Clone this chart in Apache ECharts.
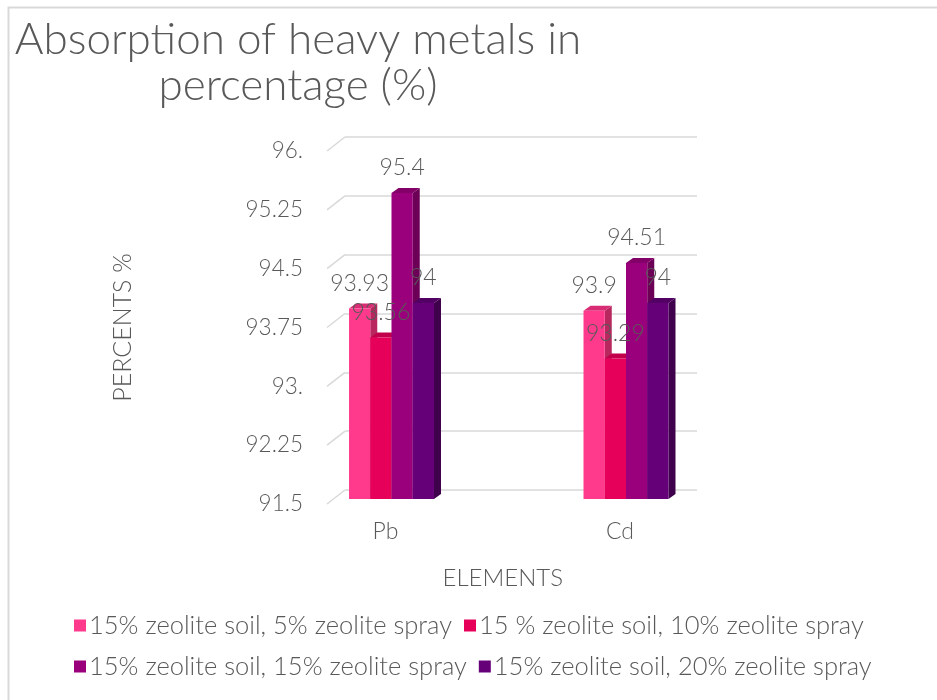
<!DOCTYPE html>
<html>
<head>
<meta charset="utf-8">
<title>Absorption of heavy metals in percentage (%)</title>
<script src="https://cdn.jsdelivr.net/npm/echarts@6/dist/echarts.min.js"></script>
<style>
  html, body { margin: 0; padding: 0; background: #ffffff; }
  #chart { width: 937px; height: 700px; }
</style>
</head>
<body>
<div id="chart"></div>
<script>
// Categories and series values
const elements = ['Pb', 'Cd'];
const seriesNames = [
  '15% zeolite soil, 5% zeolite spray',
  '15 % zeolite soil, 10% zeolite spray',
  '15% zeolite soil, 15% zeolite spray',
  '15% zeolite soil, 20% zeolite spray'
];
const spray5 = [93.93, 93.9];
const spray10 = [93.56, 93.29];
const spray15 = [95.4, 94.51];
const spray20 = [94, 94];

// Value axis ticks
const yTickValues = [91.5, 92.25, 93, 93.75, 94.5, 95.25, 96];
const yTickLabels = ['91.5', '92.25', '93.', '93.75', '94.5', '95.25', '96.'];

const Y_MIN = 91.5, Y_MAX = 96, Y_STEP = 0.75;

// Bar face colours (front, top, side)
const frontColors = ['#FF3A8C', '#E6005A', '#9A007B', '#650079'];
const topColors   = ['#D82D74', '#C2004B', '#820068', '#520063'];
const sideColors  = ['#B8285F', '#A3003F', '#6C0056', '#3F004C'];

const FONT = 'Lato';
const TEXT = '#595959';
const GRID_LINE = '#d9d9d9';

// 3D look: bars sit in front of the back wall, with a small depth
const FRONT_DY = 9;
const DEPTH_DX = 7, DEPTH_DY = -5;
const WALL_DX = -18, WALL_DY = 14;

function formatTick(v) {
  for (let i = 0; i < yTickValues.length; i++) {
    if (Math.abs(yTickValues[i] - v) < 1e-6) return yTickLabels[i];
  }
  return '';
}

function barRenderer(idx) {
  return function (params, api) {
    const cat = api.value(0);
    const val = api.value(1);
    const top = api.coord([cat, val]);
    const base = api.coord([cat, Y_MIN]);
    const band = api.size([1, 0])[0];
    const w = band * 0.0906;
    const cx = top[0] + band * 0.0256;
    const x0 = cx - 2 * w + idx * w;
    const x1 = x0 + w;
    const yT = top[1] + FRONT_DY;
    const yB = base[1] + FRONT_DY;
    return {
      type: 'group',
      children: [
        {
          type: 'polygon',
          shape: { points: [[x1, yT], [x1 + DEPTH_DX, yT + DEPTH_DY], [x1 + DEPTH_DX, yB + DEPTH_DY], [x1, yB]] },
          style: { fill: sideColors[idx] },
          z2: 1
        },
        {
          type: 'polygon',
          shape: { points: [[x0, yT], [x0 + DEPTH_DX, yT + DEPTH_DY], [x1 + DEPTH_DX, yT + DEPTH_DY], [x1, yT]] },
          style: { fill: topColors[idx] },
          z2: 1
        },
        {
          type: 'rect',
          shape: { x: x0, y: yT, width: w, height: yB - yT },
          style: { fill: frontColors[idx] },
          z2: 2
        },
        {
          type: 'text',
          x: (x0 + x1) / 2,
          y: yT - 25,
          style: {
            text: String(val),
            fill: TEXT,
            font: '300 23px ' + FONT,
            align: 'center',
            verticalAlign: 'middle'
          },
          z2: 100
        }
      ]
    };
  };
}

const seriesValues = [spray5, spray10, spray15, spray20];

const barSeries = seriesValues.map(function (vals, i) {
  return {
    name: seriesNames[i],
    type: 'custom',
    xAxisIndex: 1,
    yAxisIndex: 1,
    z: 3,
    itemStyle: { color: frontColors[i] },
    renderItem: barRenderer(i),
    encode: { x: 0, y: 1 },
    data: vals.map(function (v, c) { return [c, v]; })
  };
});

// Slanted segments where the gridlines meet the side wall
const wallSeries = {
  type: 'custom',
  xAxisIndex: 0,
  yAxisIndex: 0,
  z: 1,
  silent: true,
  renderItem: function (params, api) {
    const p = api.coord([0, api.value(1)]);
    const left = params.coordSys.x;
    return {
      type: 'line',
      shape: { x1: left, y1: p[1], x2: left + WALL_DX, y2: p[1] + WALL_DY },
      style: { stroke: GRID_LINE, lineWidth: 1.5 }
    };
  },
  encode: { x: 0, y: 1 },
  data: yTickValues.map(function (v) { return [0, v]; })
};

const chart = echarts.init(document.getElementById('chart'));

chart.setOption({
  animation: false,
  color: frontColors,
  textStyle: { fontFamily: FONT, fontWeight: 300, color: TEXT },
  title: {
    text: 'Absorption of heavy metals in\npercentage (%)',
    left: 298,
    top: 17,
    padding: 0,
    textAlign: 'center',
    textStyle: {
      fontFamily: FONT, fontWeight: 300, fontSize: 44, lineHeight: 46, color: TEXT
    }
  },
  legend: {
    left: 74,
    top: 611,
    padding: 0,
    width: 850,
    itemWidth: 12,
    itemHeight: 12,
    itemGap: 12,
    icon: 'rect',
    data: seriesNames,
    textStyle: { fontFamily: FONT, fontWeight: 300, fontSize: 25.5, lineHeight: 29, color: TEXT, padding: [0, 0, 0, -2] }
  },
  graphic: [
    {
      type: 'rect',
      silent: true,
      shape: { x: 8.5, y: 7.5, width: 1000, height: 1000 },
      style: { fill: 'none', stroke: '#d9d9d9', lineWidth: 2 }
    }
  ],
  grid: [
    // back wall
    { left: 345, top: 137, width: 352, height: 353 },
    // bar placement
    { left: 268.25, top: 137, width: 469, height: 353 },
    // front edge for value labels
    { left: 327, top: 151, width: 352, height: 353 }
  ],
  xAxis: [
    { gridIndex: 0, type: 'category', data: elements, show: false },
    {
      gridIndex: 1, type: 'category', data: elements,
      axisLine: { show: false }, axisTick: { show: false },
      axisLabel: { fontSize: 23, margin: 30, color: TEXT, fontFamily: FONT, fontWeight: 300 },
      name: 'ELEMENTS', nameLocation: 'middle', nameGap: 76,
      nameTextStyle: { fontSize: 24, color: TEXT, fontFamily: FONT, fontWeight: 300 }
    },
    { gridIndex: 2, type: 'category', data: elements, show: false }
  ],
  yAxis: [
    {
      gridIndex: 0, type: 'value', min: Y_MIN, max: Y_MAX, interval: Y_STEP,
      axisLine: { show: false }, axisTick: { show: false }, axisLabel: { show: false },
      splitLine: { lineStyle: { color: GRID_LINE, width: 1.5 } }
    },
    { gridIndex: 1, type: 'value', min: Y_MIN, max: Y_MAX, interval: Y_STEP, show: false },
    {
      gridIndex: 2, type: 'value', min: Y_MIN, max: Y_MAX, interval: Y_STEP,
      axisLine: { show: false }, axisTick: { show: false }, splitLine: { show: false },
      axisLabel: { fontSize: 22.5, margin: 24, color: TEXT, fontFamily: FONT, fontWeight: 300, formatter: formatTick },
      name: 'PERCENTS %', nameLocation: 'middle', nameRotate: 90, nameGap: 192,
      nameTextStyle: { fontSize: 25, color: TEXT, fontFamily: FONT, fontWeight: 300 }
    }
  ],
  series: [wallSeries].concat(barSeries)
});
</script>
</body>
</html>
